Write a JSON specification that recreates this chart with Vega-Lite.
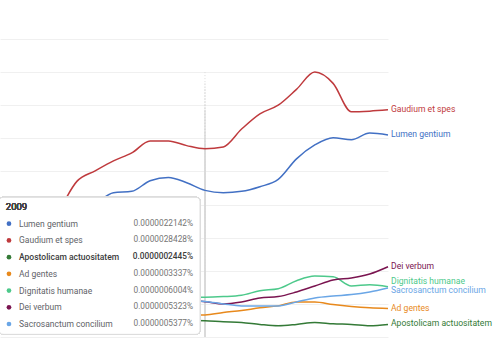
{
  "$schema": "https://vega.github.io/schema/vega-lite/v6.json",
  "width": 388,
  "height": 298,
  "autosize": "none",
  "padding": {"left": 0, "top": 39, "right": 112, "bottom": 13},
  "background": "white",
  "config": {"view": {"stroke": null}, "font": "Roboto"},
  "datasets": {
    "series": [
      {"series": "Lumen gentium", "year": 1998, "value": 0.00000145},
      {"series": "Lumen gentium", "year": 1999, "value": 0.00000155},
      {"series": "Lumen gentium", "year": 2000, "value": 0.00000165},
      {"series": "Lumen gentium", "year": 2001, "value": 0.00000175},
      {"series": "Lumen gentium", "year": 2002, "value": 0.00000186},
      {"series": "Lumen gentium", "year": 2003, "value": 0.00000201},
      {"series": "Lumen gentium", "year": 2004, "value": 0.00000218},
      {"series": "Lumen gentium", "year": 2005, "value": 0.00000220},
      {"series": "Lumen gentium", "year": 2006, "value": 0.00000236},
      {"series": "Lumen gentium", "year": 2007, "value": 0.00000241},
      {"series": "Lumen gentium", "year": 2008, "value": 0.00000233},
      {"series": "Lumen gentium", "year": 2009, "value": 0.0000022142},
      {"series": "Lumen gentium", "year": 2010, "value": 0.00000218},
      {"series": "Lumen gentium", "year": 2011, "value": 0.00000220},
      {"series": "Lumen gentium", "year": 2012, "value": 0.00000227},
      {"series": "Lumen gentium", "year": 2013, "value": 0.00000238},
      {"series": "Lumen gentium", "year": 2014, "value": 0.00000269},
      {"series": "Lumen gentium", "year": 2015, "value": 0.00000290},
      {"series": "Lumen gentium", "year": 2016, "value": 0.00000301},
      {"series": "Lumen gentium", "year": 2017, "value": 0.00000298},
      {"series": "Lumen gentium", "year": 2018, "value": 0.00000308},
      {"series": "Lumen gentium", "year": 2019, "value": 0.00000305},
      {"series": "Gaudium et spes", "year": 1998, "value": 0.00000120},
      {"series": "Gaudium et spes", "year": 1999, "value": 0.00000140},
      {"series": "Gaudium et spes", "year": 2000, "value": 0.00000160},
      {"series": "Gaudium et spes", "year": 2001, "value": 0.00000191},
      {"series": "Gaudium et spes", "year": 2002, "value": 0.00000235},
      {"series": "Gaudium et spes", "year": 2003, "value": 0.00000251},
      {"series": "Gaudium et spes", "year": 2004, "value": 0.00000266},
      {"series": "Gaudium et spes", "year": 2005, "value": 0.00000278},
      {"series": "Gaudium et spes", "year": 2006, "value": 0.00000296},
      {"series": "Gaudium et spes", "year": 2007, "value": 0.00000296},
      {"series": "Gaudium et spes", "year": 2008, "value": 0.00000289},
      {"series": "Gaudium et spes", "year": 2009, "value": 0.0000028428},
      {"series": "Gaudium et spes", "year": 2010, "value": 0.00000287},
      {"series": "Gaudium et spes", "year": 2011, "value": 0.00000314},
      {"series": "Gaudium et spes", "year": 2012, "value": 0.00000337},
      {"series": "Gaudium et spes", "year": 2013, "value": 0.00000350},
      {"series": "Gaudium et spes", "year": 2014, "value": 0.00000374},
      {"series": "Gaudium et spes", "year": 2015, "value": 0.00000400},
      {"series": "Gaudium et spes", "year": 2016, "value": 0.00000383},
      {"series": "Gaudium et spes", "year": 2017, "value": 0.00000340},
      {"series": "Gaudium et spes", "year": 2018, "value": 0.00000341},
      {"series": "Gaudium et spes", "year": 2019, "value": 0.00000343},
      {"series": "Apostolicam actuositatem", "year": 1998, "value": 0.00000030},
      {"series": "Apostolicam actuositatem", "year": 2001, "value": 0.00000029},
      {"series": "Apostolicam actuositatem", "year": 2004, "value": 0.00000027},
      {"series": "Apostolicam actuositatem", "year": 2007, "value": 0.00000026},
      {"series": "Apostolicam actuositatem", "year": 2008, "value": 0.00000025},
      {"series": "Apostolicam actuositatem", "year": 2009, "value": 0.0000002445},
      {"series": "Apostolicam actuositatem", "year": 2010, "value": 0.00000023},
      {"series": "Apostolicam actuositatem", "year": 2011, "value": 0.00000022},
      {"series": "Apostolicam actuositatem", "year": 2012, "value": 0.00000019},
      {"series": "Apostolicam actuositatem", "year": 2013, "value": 0.00000017},
      {"series": "Apostolicam actuositatem", "year": 2014, "value": 0.00000019},
      {"series": "Apostolicam actuositatem", "year": 2015, "value": 0.00000022},
      {"series": "Apostolicam actuositatem", "year": 2016, "value": 0.00000020},
      {"series": "Apostolicam actuositatem", "year": 2017, "value": 0.00000019},
      {"series": "Apostolicam actuositatem", "year": 2018, "value": 0.00000017},
      {"series": "Apostolicam actuositatem", "year": 2019, "value": 0.00000019},
      {"series": "Ad gentes", "year": 1998, "value": 0.00000038},
      {"series": "Ad gentes", "year": 2001, "value": 0.00000036},
      {"series": "Ad gentes", "year": 2004, "value": 0.00000035},
      {"series": "Ad gentes", "year": 2007, "value": 0.00000034},
      {"series": "Ad gentes", "year": 2008, "value": 0.00000034},
      {"series": "Ad gentes", "year": 2009, "value": 0.0000003337},
      {"series": "Ad gentes", "year": 2010, "value": 0.00000037},
      {"series": "Ad gentes", "year": 2011, "value": 0.00000040},
      {"series": "Ad gentes", "year": 2012, "value": 0.00000044},
      {"series": "Ad gentes", "year": 2013, "value": 0.00000047},
      {"series": "Ad gentes", "year": 2014, "value": 0.00000053},
      {"series": "Ad gentes", "year": 2015, "value": 0.00000053},
      {"series": "Ad gentes", "year": 2016, "value": 0.00000049},
      {"series": "Ad gentes", "year": 2017, "value": 0.00000046},
      {"series": "Ad gentes", "year": 2018, "value": 0.00000044},
      {"series": "Ad gentes", "year": 2019, "value": 0.00000043},
      {"series": "Dignitatis humanae", "year": 1998, "value": 0.00000050},
      {"series": "Dignitatis humanae", "year": 2001, "value": 0.00000053},
      {"series": "Dignitatis humanae", "year": 2004, "value": 0.00000056},
      {"series": "Dignitatis humanae", "year": 2007, "value": 0.00000059},
      {"series": "Dignitatis humanae", "year": 2008, "value": 0.00000060},
      {"series": "Dignitatis humanae", "year": 2009, "value": 0.0000006004},
      {"series": "Dignitatis humanae", "year": 2010, "value": 0.00000061},
      {"series": "Dignitatis humanae", "year": 2011, "value": 0.00000063},
      {"series": "Dignitatis humanae", "year": 2012, "value": 0.00000070},
      {"series": "Dignitatis humanae", "year": 2013, "value": 0.00000073},
      {"series": "Dignitatis humanae", "year": 2014, "value": 0.00000085},
      {"series": "Dignitatis humanae", "year": 2015, "value": 0.00000092},
      {"series": "Dignitatis humanae", "year": 2016, "value": 0.00000091},
      {"series": "Dignitatis humanae", "year": 2017, "value": 0.00000077},
      {"series": "Dignitatis humanae", "year": 2018, "value": 0.00000079},
      {"series": "Dignitatis humanae", "year": 2019, "value": 0.00000076},
      {"series": "Dei verbum", "year": 1998, "value": 0.00000045},
      {"series": "Dei verbum", "year": 2001, "value": 0.00000048},
      {"series": "Dei verbum", "year": 2004, "value": 0.00000050},
      {"series": "Dei verbum", "year": 2007, "value": 0.00000053},
      {"series": "Dei verbum", "year": 2008, "value": 0.00000055},
      {"series": "Dei verbum", "year": 2009, "value": 0.0000005323},
      {"series": "Dei verbum", "year": 2010, "value": 0.00000050},
      {"series": "Dei verbum", "year": 2011, "value": 0.00000053},
      {"series": "Dei verbum", "year": 2012, "value": 0.00000059},
      {"series": "Dei verbum", "year": 2013, "value": 0.00000061},
      {"series": "Dei verbum", "year": 2014, "value": 0.00000068},
      {"series": "Dei verbum", "year": 2015, "value": 0.00000077},
      {"series": "Dei verbum", "year": 2016, "value": 0.00000086},
      {"series": "Dei verbum", "year": 2017, "value": 0.00000089},
      {"series": "Dei verbum", "year": 2018, "value": 0.00000095},
      {"series": "Dei verbum", "year": 2019, "value": 0.00000106},
      {"series": "Sacrosanctum concilium", "year": 1998, "value": 0.00000060},
      {"series": "Sacrosanctum concilium", "year": 2001, "value": 0.00000058},
      {"series": "Sacrosanctum concilium", "year": 2004, "value": 0.00000056},
      {"series": "Sacrosanctum concilium", "year": 2007, "value": 0.00000055},
      {"series": "Sacrosanctum concilium", "year": 2008, "value": 0.00000055},
      {"series": "Sacrosanctum concilium", "year": 2009, "value": 0.0000005377},
      {"series": "Sacrosanctum concilium", "year": 2010, "value": 0.00000050},
      {"series": "Sacrosanctum concilium", "year": 2011, "value": 0.00000047},
      {"series": "Sacrosanctum concilium", "year": 2012, "value": 0.00000047},
      {"series": "Sacrosanctum concilium", "year": 2013, "value": 0.00000047},
      {"series": "Sacrosanctum concilium", "year": 2014, "value": 0.00000053},
      {"series": "Sacrosanctum concilium", "year": 2015, "value": 0.00000059},
      {"series": "Sacrosanctum concilium", "year": 2016, "value": 0.00000062},
      {"series": "Sacrosanctum concilium", "year": 2017, "value": 0.00000064},
      {"series": "Sacrosanctum concilium", "year": 2018, "value": 0.00000068},
      {"series": "Sacrosanctum concilium", "year": 2019, "value": 0.00000074}
    ]
  },
  "data": {"name": "series"},
  "layer": [
    {
      "encoding": {
        "x": {"field": "year", "type": "quantitative", "scale": {"domain": [1997.8, 2019], "nice": false, "zero": false}, "axis": null},
        "y": {"field": "value", "type": "quantitative", "scale": {"domain": [0, 0.0000045], "nice": false},
          "axis": {"values": [0, 0.0000005, 0.000001, 0.0000015, 0.000002, 0.0000025, 0.000003, 0.0000035, 0.000004, 0.0000045], "labels": false, "ticks": false, "domain": false, "grid": true, "gridColor": "#f0f0f0", "title": null}},
        "color": {"field": "series", "type": "nominal", "legend": null,
          "scale": {"domain": ["Lumen gentium", "Gaudium et spes", "Apostolicam actuositatem", "Ad gentes", "Dignitatis humanae", "Dei verbum", "Sacrosanctum concilium"],
                    "range": ["#4270c4", "#bf3a3d", "#347a37", "#e8891c", "#4dc98b", "#7a1450", "#6aa6e6"]}}
      },
      "layer": [
        {"mark": {"type": "rule", "strokeDash": [1, 2], "strokeWidth": 1}, "encoding": {"x": {"datum": 2009}, "color": {"value": "#dadada"}}},
        {"mark": {"type": "line", "interpolate": "monotone", "strokeWidth": 1.5}},
        {"transform": [{"filter": "datum.year == 2019 && datum.series != 'Dignitatis humanae' && datum.series != 'Sacrosanctum concilium'"}],
         "mark": {"type": "text", "align": "left", "baseline": "middle", "dx": 3, "dy": -1, "fontSize": 8.6},
         "encoding": {"text": {"field": "series"}}},
        {"transform": [{"filter": "datum.series == 'Dignitatis humanae' && datum.year == 2019"}],
         "mark": {"type": "text", "align": "left", "baseline": "middle", "dx": 3, "dy": -5.5, "fontSize": 8.6},
         "encoding": {"text": {"field": "series"}}},
        {"transform": [{"filter": "datum.series == 'Sacrosanctum concilium' && datum.year == 2019"}],
         "mark": {"type": "text", "align": "left", "baseline": "middle", "dx": 3, "dy": 2, "fontSize": 8.6},
         "encoding": {"text": {"field": "series"}}},
        {"mark": {"type": "rect", "fill": "white", "stroke": "#dcdcdc", "strokeWidth": 1, "cornerRadius": 4},
         "encoding": {"x": {"datum": 1997.75}, "x2": {"datum": 2008.73}, "y": {"datum": 0.00000211}, "y2": {"datum": 0.00000004}, "color": {"value": "white"}}}
      ]
    },
    {
      "transform": [{"filter": "datum.year == 2009"}, {"calculate": "format(datum.value, '.10f') + '%'", "as": "pct"}],
      "encoding": {
        "y": {"field": "series", "type": "nominal", "axis": null,
          "scale": {"type": "point", "padding": 0, "domain": ["2009", "Lumen gentium", "Gaudium et spes", "Apostolicam actuositatem", "Ad gentes", "Dignitatis humanae", "Dei verbum", "Sacrosanctum concilium"], "range": [168, 285]}}
      },
      "layer": [
        {"mark": {"type": "text", "align": "left", "baseline": "middle", "fontSize": 9.5, "fontWeight": "normal", "color": "#444444"},
         "encoding": {"x": {"datum": 1998.12}, "y": {"datum": "2009"}, "text": {"value": "2009"}}},
        {"mark": {"type": "point", "filled": true, "size": 22, "opacity": 1},
         "encoding": {"x": {"datum": 1998.29},
           "color": {"field": "series", "type": "nominal", "legend": null}}},
        {"transform": [{"filter": "datum.series != 'Apostolicam actuositatem'"}],
         "mark": {"type": "text", "align": "left", "baseline": "middle", "fontSize": 8.5, "color": "#5f6368"},
         "encoding": {"x": {"datum": 1998.84}, "text": {"field": "series"}}},
        {"transform": [{"filter": "datum.series == 'Apostolicam actuositatem'"}],
         "mark": {"type": "text", "align": "left", "baseline": "middle", "fontSize": 8.5, "fontWeight": 500, "color": "#3c3c3c"},
         "encoding": {"x": {"datum": 1998.84}, "text": {"field": "series"}}},
        {"transform": [{"filter": "datum.series != 'Apostolicam actuositatem'"}],
         "mark": {"type": "text", "align": "right", "baseline": "middle", "fontSize": 8.3, "color": "#757575"},
         "encoding": {"x": {"datum": 2008.35}, "text": {"field": "pct"}}},
        {"transform": [{"filter": "datum.series == 'Apostolicam actuositatem'"}],
         "mark": {"type": "text", "align": "right", "baseline": "middle", "fontSize": 8.3, "fontWeight": 500, "color": "#3c3c3c"},
         "encoding": {"x": {"datum": 2008.35}, "text": {"field": "pct"}}}
      ]
    }
  ],
  "resolve": {"scale": {"y": "independent"}, "axis": {"y": "independent"}}
}
